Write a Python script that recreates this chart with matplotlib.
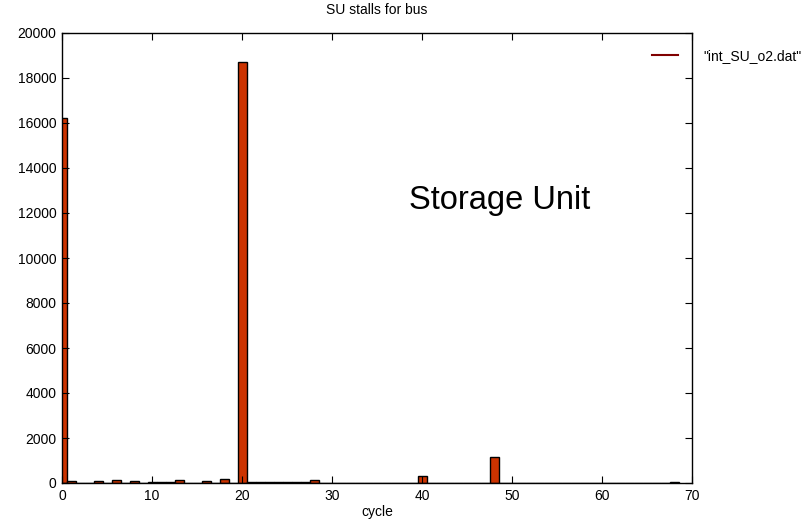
import matplotlib
matplotlib.use("Agg")
import matplotlib.pyplot as plt

plt.rcParams['font.family'] = ['Liberation Sans', 'DejaVu Sans']

# stall counts per cycle value
cycles = list(range(0, 69))
stalls = [16200, 90, 0, 0, 90, 0, 140, 0, 90, 0,
          30, 30, 30, 150, 0, 0, 90, 0, 200, 0,
          18700, 40, 40, 40, 40, 40, 40, 40, 150, 0,
          0, 0, 0, 10, 10, 10, 10, 10, 10, 10,
          330, 15, 15, 15, 15, 15, 15, 15, 1150, 10,
          10, 10, 10, 10, 10, 10, 10, 10, 10, 10,
          10, 10, 10, 10, 10, 10, 10, 10, 40]

x_ticks = [0, 10, 20, 30, 40, 50, 60, 70]
y_ticks = [0, 2000, 4000, 6000, 8000, 10000, 12000, 14000, 16000, 18000, 20000]

fig = plt.figure(figsize=(8.08, 5.19), dpi=100)
ax = fig.add_axes([62 / 808, 1 - 483 / 519, 630 / 808, 450 / 519])

ax.bar(cycles, stalls, width=1.0, color='#cc3300', edgecolor='black', linewidth=1.0)

ax.set_xlim(0, 70)
ax.set_ylim(0, 20000)
ax.set_xticks(x_ticks)
ax.set_yticks(y_ticks)
ax.tick_params(direction='in', top=True, right=True, labelsize=10, length=5, pad=4)
for s in ax.spines.values():
    s.set_linewidth(1.0)

ax.set_title('SU stalls for bus', fontsize=10, pad=14)
ax.set_xlabel('cycle', fontsize=10, labelpad=2)

ax.text(0.551, 0.609, 'Storage Unit', transform=ax.transAxes, fontsize=23.5)

# legend: short dark red line with the file name right of it
ax.plot([], [], color='#800000', linewidth=1.5, label='"int_SU_o2.dat"')
ax.legend(loc='upper left', bbox_to_anchor=(0.9365, 0.965), frameon=False,
          borderpad=0, borderaxespad=0, handlelength=1.9, handletextpad=1.8,
          fontsize=10)

fig.savefig('out.png', dpi=100)
